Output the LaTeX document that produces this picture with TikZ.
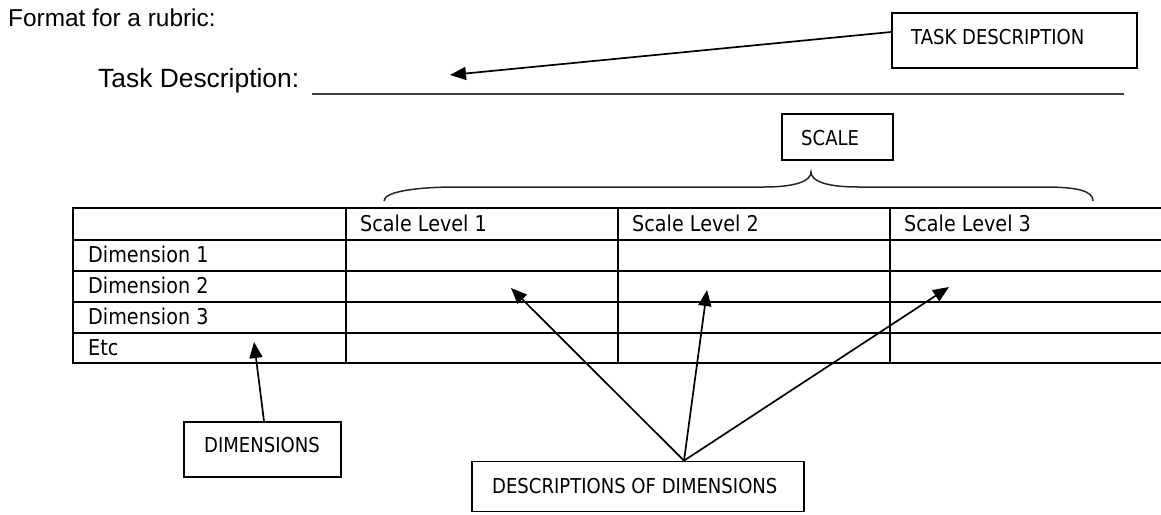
\documentclass[tikz,border=0pt]{standalone}
\usepackage{fontspec}
\setmainfont{Liberation Sans}
\newfontfamily\labelfont[FakeStretch=0.88]{DejaVu Sans}
\usetikzlibrary{arrows.meta,calc}
\begin{document}
\begin{tikzpicture}[x=1pt,y=-1pt,
  calloutbox/.style={draw, line width=1.7pt, inner sep=0pt},
  lbl/.style={font=\labelfont\fontsize{20.5}{24}\selectfont, inner sep=0pt, anchor=base west},
  cell/.style={font=\labelfont\fontsize{21.8}{26}\selectfont, inner sep=0pt, anchor=base west},
  conn/.style={line width=1.7pt, -{Triangle[length=16pt,width=13pt]}},
  rule/.style={line width=1.8pt}]
\useasboundingbox (0,0) rectangle (1161,514);

% heading and task line
\node[font=\fontsize{24.4}{28}\selectfont, inner sep=0pt, anchor=base west] (title) at (8,26.7) {Format for a rubric:};
\node[font=\fontsize{26.4}{30}\selectfont, inner sep=0pt, anchor=base west] (taskline) at (98,87.7) {Task Description:};
\draw[line width=2.4pt, black!75] (312,94) -- (1124,94);

% callout boxes
\node[calloutbox, minimum width=245pt, minimum height=55pt] (tdbox) at (1014.5,40.5) {};
\node[lbl] (tdtext) at (911,44) {TASK DESCRIPTION};
\node[calloutbox, minimum width=111pt, minimum height=46pt] (scalebox) at (837.5,137) {};
\node[lbl] (scaletext) at (801,145.5) {SCALE};
\node[calloutbox, minimum width=157pt, minimum height=55pt] (dimbox) at (262.5,449.5) {};
\node[lbl] (dimtext) at (204,452.5) {DIMENSIONS};
\node[calloutbox, minimum width=332pt, minimum height=50pt] (desbox) at (638,486.5) {};
\node[lbl] (destext) at (492,493) {DESCRIPTIONS OF DIMENSIONS};

% brace over the scale levels
\draw[line width=1.5pt, black!85]
  (384,201) .. controls (384,191) and (420,187) .. (456,187) -- (764,187)
  .. controls (796,187) and (811,181) .. (811,172)
  .. controls (811,181) and (826,187) .. (858,187) -- (1044,187)
  .. controls (1078,187) and (1093,191) .. (1093,201);

% rubric table
\foreach \y in {208,240,271,302,333,363} \draw[rule] (72,\y) -- (1161,\y);
\foreach \x in {73,346,618,890} \draw[rule] (\x,208) -- (\x,363);
\node[cell] (s1) at (360,231.5) {Scale Level 1};
\node[cell] (s2) at (632,231.5) {Scale Level 2};
\node[cell] (s3) at (904,231.5) {Scale Level 3};
\node[cell] (d1) at (88,262.7) {Dimension 1};
\node[cell] (d2) at (88,293) {Dimension 2};
\node[cell] (d3) at (88,324) {Dimension 3};
\node[cell] (d4) at (88,355.7) {Etc};

% pointers
\coordinate (tdtip) at (450,75);
\coordinate (dimtip) at (254,342);
\coordinate (tipA) at (511,288);
\coordinate (tipB) at (707,290);
\coordinate (tipC) at (949,287);
\coordinate (desroot) at ($(desbox.north)+(46,0)$);
\draw[conn] ([yshift=8.5pt]tdbox.west) -- (tdtip);
\draw[conn] ($(dimbox.north)+(1.5,0)$) -- (dimtip);
\draw[conn] (desroot) -- (tipA);
\draw[conn] (desroot) -- (tipB);
\draw[conn] (desroot) -- (tipC);
\end{tikzpicture}
\end{document}
